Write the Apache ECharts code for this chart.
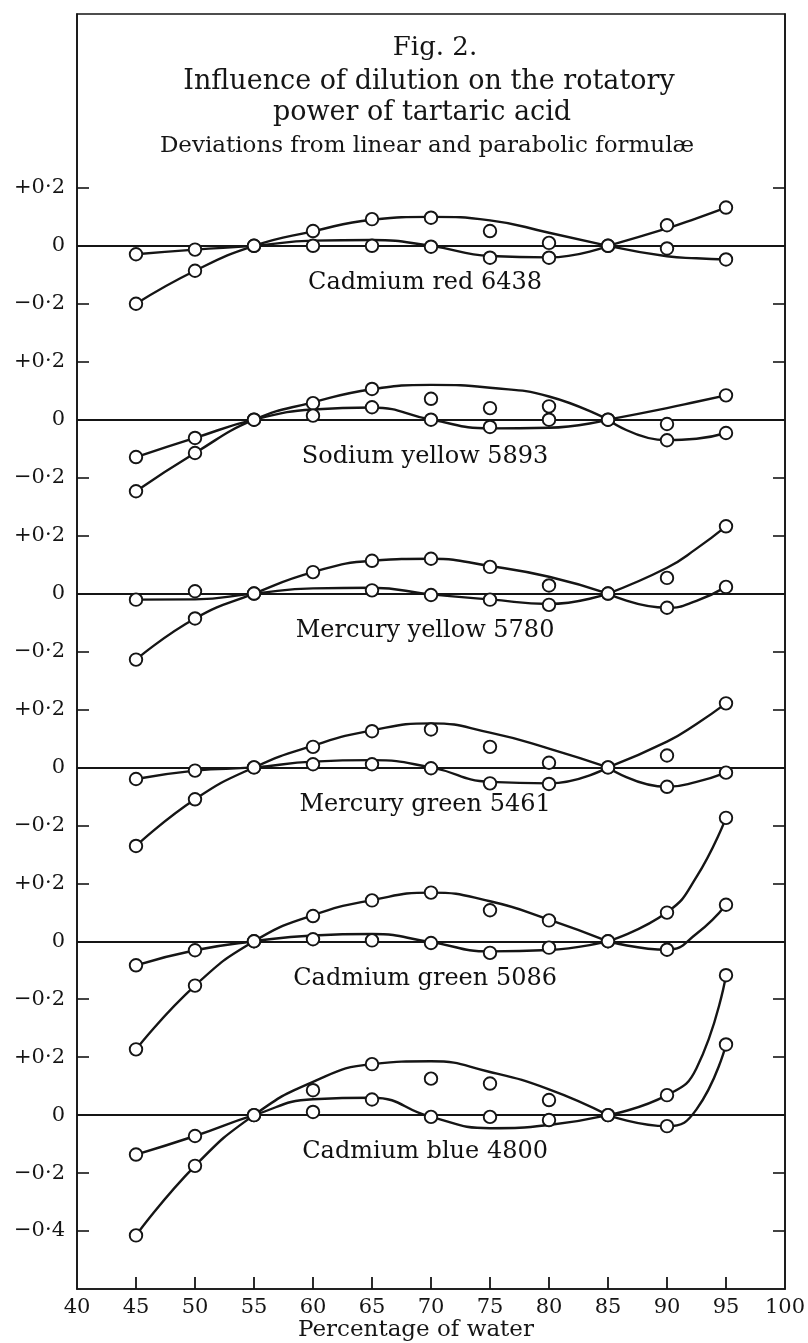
<!DOCTYPE html>
<html>
<head>
<meta charset="utf-8">
<script src="https://cdn.jsdelivr.net/npm/echarts@6/dist/echarts.min.js"></script>
<style>html, body { margin: 0; background: #fff; }</style>
</head>
<body>
<div id="main" style="width:808px;height:1343px;"></div>
<script>
// measured points, one row per light source, x = 45 .. 95
const xValues = [45, 50, 55, 60, 65, 70, 75, 80, 85, 90, 95];
const panelNames = ['Cadmium red 6438', 'Sodium yellow 5893', 'Mercury yellow 5780',
                    'Mercury green 5461', 'Cadmium green 5086', 'Cadmium blue 4800'];

// deviations from the linear formula
const linearPts = [
  [-0.200, -0.086, 0, 0.051, 0.092, 0.097, 0.051, 0.010, 0, 0.071, 0.132],
  [-0.247, -0.115, 0, 0.057, 0.106, 0.072, 0.040, 0.046, 0, -0.015, 0.084],
  [-0.228, -0.086, 0, 0.074, 0.113, 0.120, 0.092, 0.028, 0, 0.054, 0.232],
  [-0.271, -0.110, 0, 0.071, 0.125, 0.131, 0.071, 0.016, 0, 0.041, 0.221],
  [-0.373, -0.153, 0, 0.087, 0.141, 0.168, 0.107, 0.072, 0, 0.099, 0.426],
  [-0.415, -0.175, 0, 0.086, 0.176, 0.126, 0.109, 0.052, 0, 0.069, 0.483]
];
// deviations from the parabolic formula
const parabolicPts = [
  [-0.029, -0.013, 0, 0.000, 0.000, -0.003, -0.041, -0.041, 0, -0.009, -0.047],
  [-0.129, -0.063, 0, 0.014, 0.043, 0.000, -0.025, 0.000, 0, -0.071, -0.046],
  [-0.021, 0.008, 0, null, 0.011, -0.005, -0.021, -0.039, 0, -0.049, 0.023],
  [-0.040, -0.011, 0, 0.011, 0.011, -0.003, -0.055, -0.057, 0, -0.067, -0.018],
  [-0.083, -0.031, 0, 0.007, 0.003, -0.006, -0.040, -0.022, 0, -0.029, 0.126],
  [-0.136, -0.072, 0, 0.011, 0.054, -0.006, -0.006, -0.017, 0, -0.038, 0.244]
];

const curveX = [45, 50, 55, 60, 65, 70, 75, 80, 85, 90, 92.5, 95];
const linearCurve = [
  [-0.200, -0.086, 0, 0.050, 0.090, 0.100, 0.088, 0.045, 0, 0.060, 0.095, 0.132],
  [-0.247, -0.115, 0, 0.060, 0.105, 0.120, 0.110, 0.080, 0, 0.040, 0.062, 0.084],
  [-0.228, -0.086, 0, 0.074, 0.113, 0.120, 0.095, 0.058, 0, 0.089, 0.155, 0.232],
  [-0.271, -0.110, 0, 0.075, 0.128, 0.152, 0.120, 0.065, 0, 0.089, 0.150, 0.221],
  [-0.373, -0.153, 0, 0.090, 0.142, 0.168, 0.138, 0.075, 0, 0.100, 0.222, 0.426],
  [-0.415, -0.175, 0, 0.115, 0.176, 0.186, 0.149, 0.089, 0, 0.069, 0.162, 0.483]
];
const parabolicCurve = [
  [-0.029, -0.013, 0, 0.018, 0.020, 0.000, -0.035, -0.040, 0, -0.036, -0.043, -0.047],
  [-0.129, -0.063, 0, 0.035, 0.042, 0.000, -0.030, -0.028, 0, -0.071, -0.066, -0.046],
  [-0.021, -0.020, 0, 0.018, 0.020, -0.003, -0.020, -0.036, 0, -0.049, -0.025, 0.023],
  [-0.040, -0.011, 0, 0.020, 0.025, 0.000, -0.050, -0.055, 0, -0.067, -0.050, -0.018],
  [-0.083, -0.031, 0, 0.020, 0.025, -0.003, -0.035, -0.030, 0, -0.029, 0.026, 0.126],
  [-0.136, -0.072, 0, 0.055, 0.060, -0.006, -0.045, -0.034, 0, -0.038, 0.020, 0.244]
];

// y tick labels of each panel
const panelTicks = [
  [0.2, 0, -0.2], [0.2, 0, -0.2], [0.2, 0, -0.2],
  [0.2, 0, -0.2], [0.2, 0, -0.2], [0.2, 0, -0.2, -0.4]
];
const panelTickLabels = [
  ['+0·2', '0', '−0·2'], ['+0·2', '0', '−0·2'], ['+0·2', '0', '−0·2'],
  ['+0·2', '0', '−0·2'], ['+0·2', '0', '−0·2'], ['+0·2', '0', '−0·2', '−0·4']
];
const xTicks = [45, 50, 55, 60, 65, 70, 75, 80, 85, 90, 95];
const xTickLabels = ['40', '45', '50', '55', '60', '65', '70', '75', '80', '85', '90', '95', '100'];

// each panel sits 0.6 units below the previous one on a shared axis
const panelShift = [0, -0.6, -1.2, -1.8, -2.4, -3.0];

const ink = '#151515';
const font = 'DejaVu Serif';
const cornerX = 85;
const yMin = -3.6, yMax = 0.8;

const tickVals = [];
const labelFor = {};
panelShift.forEach((s, k) => {
  panelTicks[k].forEach((t, j) => {
    tickVals.push(+(s + t).toFixed(3));
    labelFor[(s + t).toFixed(2)] = panelTickLabels[k][j];
  });
});

function curveSeries(pts) {
  return {
    type: 'line',
    data: pts,
    smooth: 0.5,
    symbol: 'none',
    silent: true,
    lineStyle: { color: ink, width: 2.4 },
    z: 3
  };
}

const series = [];
panelNames.forEach((name, k) => {
  const s = panelShift[k];
  [linearCurve[k], parabolicCurve[k]].forEach(c => {
    const pts = curveX.map((x, i) => [x, c[i] + s]);
    series.push(curveSeries(pts.filter(p => p[0] <= cornerX)));
    series.push(curveSeries(pts.filter(p => p[0] >= cornerX)));
  });
  [linearPts[k], parabolicPts[k]].forEach(p => {
    series.push({
      type: 'scatter',
      data: xValues.map((x, i) => p[i] == null ? null : [x, p[i] + s]).filter(d => d),
      symbol: 'circle',
      symbolSize: 12.5,
      itemStyle: { color: '#fff', borderColor: ink, borderWidth: 1.9, opacity: 1 },
      z: 5
    });
  });
});

// zero line of every panel
series[0].markLine = {
  symbol: 'none',
  silent: true,
  label: { show: false },
  lineStyle: { color: ink, width: 2, type: 'solid' },
  data: panelShift.map(v => ({ yAxis: v }))
};

// short upward ticks standing on the bottom axis
series.push({
  type: 'scatter',
  data: xTicks.map(x => [x, yMin]),
  symbol: 'rect',
  symbolSize: [1.8, 12],
  symbolOffset: [0, -6],
  clip: false,
  silent: true,
  itemStyle: { color: ink, opacity: 1 },
  z: 8
});

// panel names
series.push({
  type: 'scatter',
  data: panelNames.map((n, k) => ({ name: n, value: [69.5, panelShift[k] - 0.128] })),
  symbolSize: 0.5,
  itemStyle: { color: '#fff', opacity: 1 },
  label: {
    show: true, position: 'inside', formatter: '{b}',
    fontFamily: font, fontSize: 24, color: '#111', opacity: 1
  },
  silent: true,
  z: 6
});

const axisInk = { color: ink, width: 1.6 };
const myChart = echarts.init(document.getElementById('main'));
const option = {
  animation: false,
  backgroundColor: '#fff',
  grid: {
    left: 77, right: 23, top: 14, bottom: 54,
    outerBoundsMode: 'none',
    containLabel: false,
    show: true, borderColor: ink, borderWidth: 1.6, backgroundColor: 'transparent'
  },
  xAxis: {
    type: 'value', position: 'bottom', min: 40, max: 100, interval: 5,
    axisLine: { show: true, onZero: false, lineStyle: axisInk },
    axisTick: { show: false },
    splitLine: { show: false },
    axisLabel: {
      showMinLabel: true, showMaxLabel: true, margin: 8,
      fontFamily: font, fontSize: 21, color: ink,
      formatter: v => xTickLabels[Math.round((v - 40) / 5)]
    },
    name: 'Percentage of water',
    nameLocation: 'middle',
    nameMoveOverlap: false,
    nameGap: 30,
    nameTextStyle: { fontFamily: font, fontSize: 23, color: ink, padding: [0, 30, 0, 0] }
  },
  yAxis: [{
    type: 'value', min: yMin, max: yMax, interval: 0.2,
    axisLine: { show: true, onZero: false, lineStyle: axisInk },
    splitLine: { show: false },
    axisTick: { inside: true, length: 12, customValues: tickVals, lineStyle: axisInk },
    axisLabel: {
      customValues: tickVals, margin: 12,
      fontFamily: font, fontSize: 21, color: ink,
      formatter: v => labelFor[v.toFixed(2)] || ''
    }
  }, {
    type: 'value', position: 'right', min: yMin, max: yMax, interval: 0.2,
    axisLine: { show: true, onZero: false, lineStyle: axisInk },
    splitLine: { show: false },
    axisTick: { inside: true, length: 12, customValues: tickVals, lineStyle: axisInk },
    axisLabel: { show: false }
  }],
  graphic: [
    { type: 'text', x: 435, y: 48, style: { text: 'Fig. 2.', fill: ink, font: '26px "DejaVu Serif"', textAlign: 'center', textVerticalAlign: 'middle' } },
    { type: 'text', x: 429, y: 82, style: { text: 'Influence of dilution on the rotatory', fill: ink, font: '27px "DejaVu Serif"', textAlign: 'center', textVerticalAlign: 'middle' } },
    { type: 'text', x: 422, y: 113, style: { text: 'power of tartaric acid', fill: ink, font: '27px "DejaVu Serif"', textAlign: 'center', textVerticalAlign: 'middle' } },
    { type: 'text', x: 427, y: 146, style: { text: 'Deviations from linear and parabolic formulæ', fill: ink, font: '23px "DejaVu Serif"', textAlign: 'center', textVerticalAlign: 'middle' } }
  ],
  series: series
};
option && myChart.setOption(option);
</script>
</body>
</html>
